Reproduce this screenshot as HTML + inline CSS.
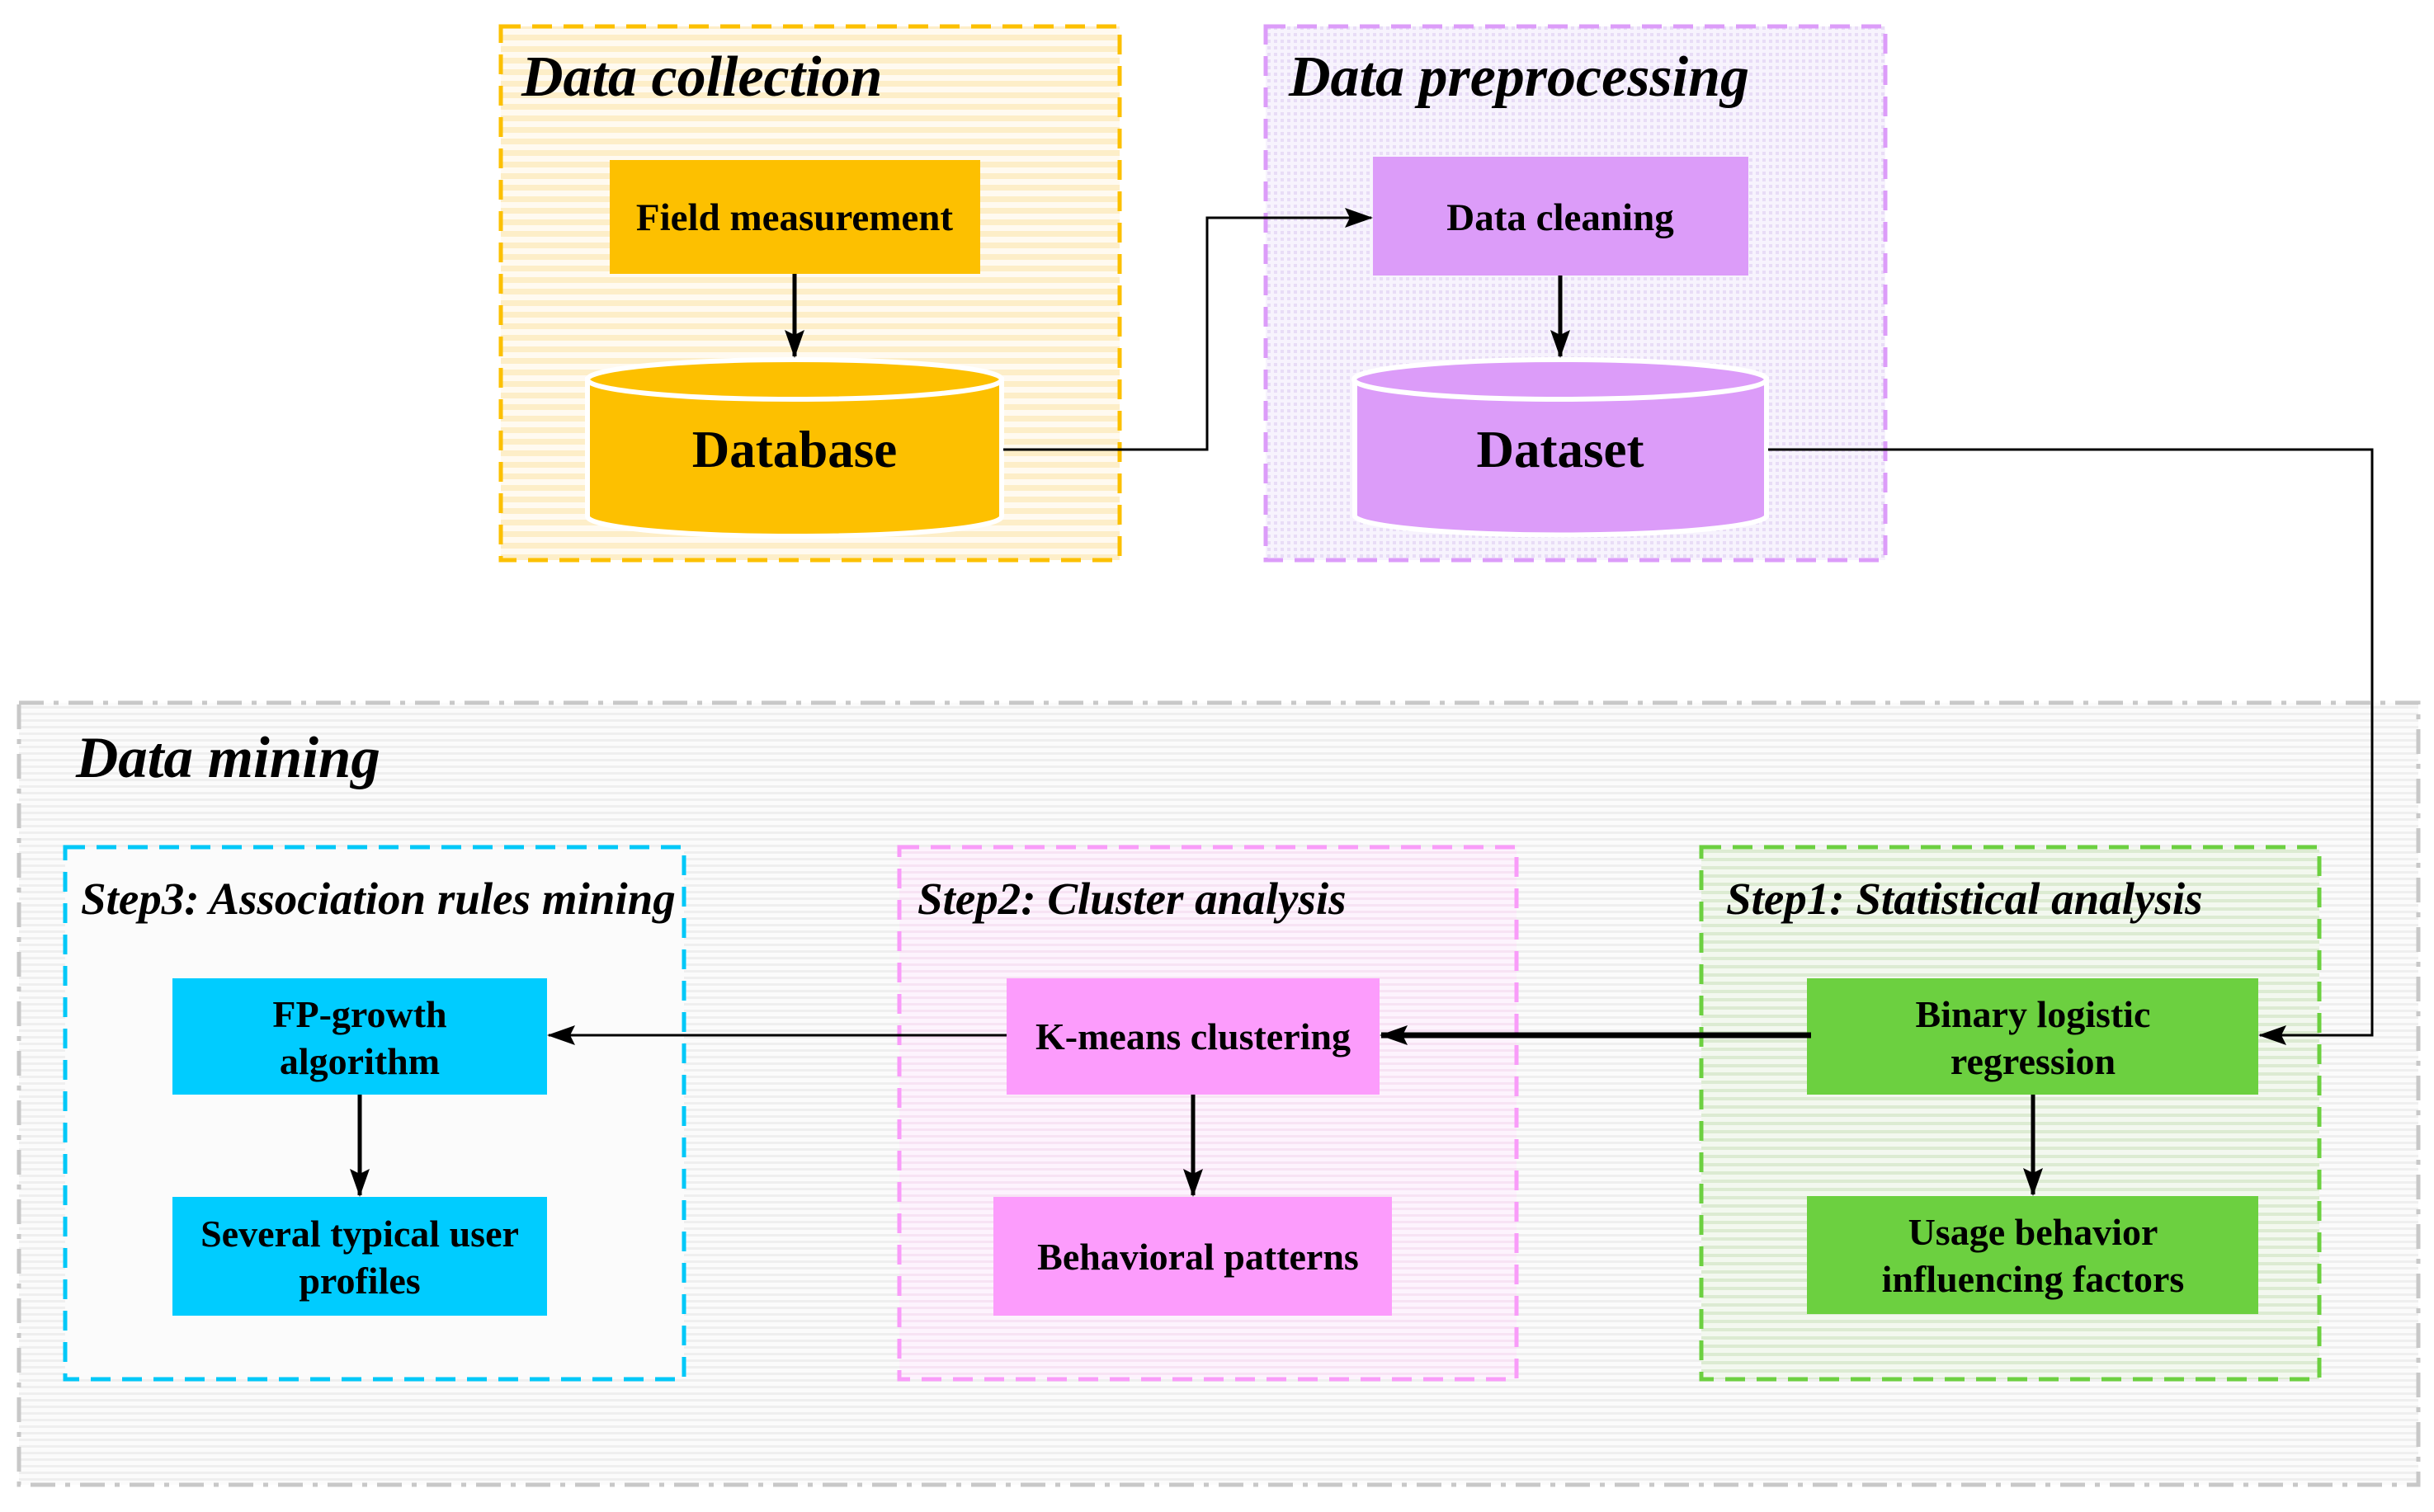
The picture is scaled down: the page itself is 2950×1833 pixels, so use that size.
<!DOCTYPE html>
<html><head><meta charset="utf-8"><style>
html,body{margin:0;padding:0;background:#fff}
svg{display:block}
text{font-family:"Liberation Serif",serif;font-weight:bold;fill:#000}
</style></head><body>
<svg width="2950" height="1833" viewBox="0 0 2950 1833" xmlns="http://www.w3.org/2000/svg">
<defs>
<pattern id="py" width="10" height="14" patternUnits="userSpaceOnUse"><rect width="10" height="14" fill="#fffaf0"/><rect width="10" height="7" fill="#fdeec8"/></pattern>
<pattern id="pp" width="8" height="8" patternUnits="userSpaceOnUse"><rect width="8" height="8" fill="#f7f3fd"/><rect width="4" height="4" fill="#e8dcf6"/></pattern>
<pattern id="pg" width="10" height="8" patternUnits="userSpaceOnUse"><rect width="10" height="8" fill="#fbfbfb"/><rect width="10" height="3" fill="#efefef"/></pattern>
<pattern id="pk" width="10" height="8" patternUnits="userSpaceOnUse"><rect width="10" height="8" fill="#fdf3fd"/><rect width="10" height="3" fill="#f7e3f4"/></pattern>
<pattern id="pgr" width="10" height="10" patternUnits="userSpaceOnUse"><rect width="10" height="10" fill="#f3f8ef"/><rect width="10" height="4" fill="#dcebd2"/></pattern>
<marker id="ah" markerWidth="34" markerHeight="24" refX="32" refY="12" orient="auto" markerUnits="userSpaceOnUse" viewBox="0 0 34 24"><path d="M0,0 L34,12 L0,24 L6,12 z" fill="#000"/></marker>
</defs>

<!-- Data mining -->
<rect x="23" y="852" width="2908" height="948" fill="url(#pg)" stroke="#c8c8c8" stroke-width="5" stroke-dasharray="30,12,6,12"/>
<text x="92" y="942" font-size="71" font-style="italic">Data mining</text>

<!-- Data collection -->
<rect x="607" y="32" width="750" height="647" fill="url(#py)" stroke="#fcc000" stroke-width="5" stroke-dasharray="24,14"/>
<text x="632" y="116" font-size="70" font-style="italic">Data collection</text>
<rect x="739" y="194" width="449" height="138" fill="#fdc000"/>
<text x="963" y="279" font-size="47" text-anchor="middle">Field measurement</text>
<path d="M712,460 L712,626 A251,24 0 0 0 1214,626 L1214,460 z" fill="#fdc000" stroke="#fff" stroke-width="6"/>
<ellipse cx="963" cy="460" rx="251" ry="24" fill="#fdc000" stroke="#fff" stroke-width="6"/>
<text x="963" y="566" font-size="63" text-anchor="middle">Database</text>
<line x1="963" y1="332" x2="963" y2="432" stroke="#000" stroke-width="5" marker-end="url(#ah)"/>

<!-- Data preprocessing -->
<rect x="1534" y="32" width="751" height="647" fill="url(#pp)" stroke="#dc9cf9" stroke-width="5" stroke-dasharray="24,14"/>
<text x="1562" y="116" font-size="70" font-style="italic">Data preprocessing</text>
<rect x="1664" y="190" width="455" height="144" fill="#dc9cf9"/>
<text x="1891" y="279" font-size="47" text-anchor="middle">Data cleaning</text>
<path d="M1642,460 L1642,626 A250,24 0 0 0 2141,626 L2141,460 z" fill="#dc9cf9" stroke="#fff" stroke-width="6"/>
<ellipse cx="1891" cy="460" rx="250" ry="24" fill="#dc9cf9" stroke="#fff" stroke-width="6"/>
<text x="1891" y="566" font-size="63" text-anchor="middle">Dataset</text>
<line x1="1891" y1="334" x2="1891" y2="432" stroke="#000" stroke-width="5" marker-end="url(#ah)"/>

<!-- Step3 -->
<rect x="79" y="1027" width="750" height="645" fill="#fbfbfb" stroke="#00c8f8" stroke-width="5" stroke-dasharray="24,14"/>
<text x="98" y="1108" font-size="55" font-style="italic">Step3: Association rules mining</text>
<rect x="209" y="1186" width="454" height="141" fill="#00ccff"/>
<text x="436" y="1245" font-size="46" text-anchor="middle">FP-growth</text>
<text x="436" y="1302" font-size="46" text-anchor="middle">algorithm</text>
<rect x="209" y="1451" width="454" height="144" fill="#00ccff"/>
<text x="436" y="1511" font-size="46" text-anchor="middle">Several typical user</text>
<text x="436" y="1568" font-size="46" text-anchor="middle">profiles</text>
<line x1="436" y1="1327" x2="436" y2="1449" stroke="#000" stroke-width="5" marker-end="url(#ah)"/>

<!-- Step2 -->
<rect x="1090" y="1027" width="748" height="645" fill="url(#pk)" stroke="#f99cf9" stroke-width="5" stroke-dasharray="24,14"/>
<text x="1112" y="1108" font-size="55" font-style="italic">Step2: Cluster analysis</text>
<rect x="1220" y="1186" width="452" height="141" fill="#fc9cfc"/>
<text x="1446" y="1272" font-size="46" text-anchor="middle">K-means clustering</text>
<rect x="1204" y="1451" width="483" height="144" fill="#fc9cfc"/>
<text x="1452" y="1539" font-size="46" text-anchor="middle">Behavioral patterns</text>
<line x1="1446" y1="1327" x2="1446" y2="1449" stroke="#000" stroke-width="5" marker-end="url(#ah)"/>

<!-- Step1 -->
<rect x="2062" y="1027" width="749" height="645" fill="url(#pgr)" stroke="#6cd040" stroke-width="5" stroke-dasharray="24,14"/>
<text x="2092" y="1108" font-size="55" font-style="italic">Step1: Statistical analysis</text>
<rect x="2190" y="1186" width="547" height="141" fill="#6cd040"/>
<text x="2464" y="1245" font-size="46" text-anchor="middle">Binary logistic</text>
<text x="2464" y="1302" font-size="46" text-anchor="middle">regression</text>
<rect x="2190" y="1450" width="547" height="143" fill="#6cd040"/>
<text x="2464" y="1509" font-size="46" text-anchor="middle">Usage behavior</text>
<text x="2464" y="1566" font-size="46" text-anchor="middle">influencing factors</text>
<line x1="2464" y1="1327" x2="2464" y2="1448" stroke="#000" stroke-width="5" marker-end="url(#ah)"/>

<!-- horizontal arrows -->
<line x1="2195" y1="1255" x2="1674" y2="1255" stroke="#000" stroke-width="7" marker-end="url(#ah)"/>
<line x1="1220" y1="1255" x2="665" y2="1255" stroke="#000" stroke-width="3" marker-end="url(#ah)"/>

<!-- connectors top (drawn last) -->
<polyline points="1216,545 1463,545 1463,264 1662,264" fill="none" stroke="#000" stroke-width="3" marker-end="url(#ah)"/>
<polyline points="2143,545 2875,545 2875,1255 2739,1255" fill="none" stroke="#000" stroke-width="3" marker-end="url(#ah)"/>
</svg>
</body></html>
